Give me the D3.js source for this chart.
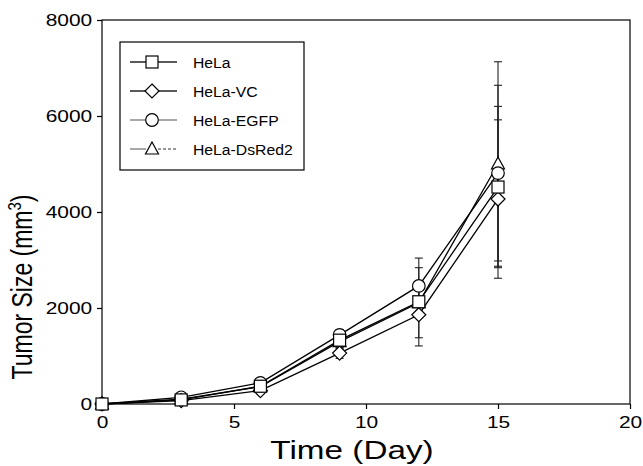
<!DOCTYPE html>
<html lang="en">
<head>
    <meta charset="UTF-8">
    <title>Tumor Size</title>
    <script src="https://d3js.org/d3.v7.min.js"></script>
    <style>
        body { margin: 0; background: #fff; }
        svg { display: block; font-family: "Liberation Sans", Arial, Helvetica, sans-serif; }
    </style>
</head>
<body>
    <svg width="643" height="466"></svg>

    <script>
        // data
        const days = [0, 3, 6, 9, 12, 15];
        const seriesNames = ["HeLa", "HeLa-VC", "HeLa-EGFP", "HeLa-DsRed2"];
        const helaMean   = [0, 85, 370, 1330, 2130, 4520];
        const vcMean     = [0, 70, 280, 1060, 1860, 4270];
        const egfpMean   = [0, 140, 440, 1440, 2460, 4810];
        const dsredMean  = [0, 100, 360, 1300, 2110, 5000];
        const helaSd     = [0, 40, 80, 140, 300, 1680];
        const vcSd       = [0, 30, 70, 110, 650, 1650];
        const egfpSd     = [0, 40, 90, 110, 580, 1830];
        const dsredSd    = [0, 40, 80, 140, 730, 2130];
        const xTicks = [0, 5, 10, 15, 20];
        const yTicks = [0, 2000, 4000, 6000, 8000];

        const means = [helaMean, vcMean, egfpMean, dsredMean];
        const sds = [helaSd, vcSd, egfpSd, dsredSd];
        const shapes = ["square", "diamond", "circle", "triangle"];
        const legendColors = ["#000", "#000", "#777", "#777"];

        const svg = d3.select("svg");
        const x = d3.scaleLinear().domain([0, 20]).range([102, 630]);
        const y = d3.scaleLinear().domain([0, 8000]).range([404, 20]);

        // frame
        svg.append("rect")
            .attr("x", x(0)).attr("y", y(8000))
            .attr("width", x(20) - x(0)).attr("height", y(0) - y(8000))
            .attr("fill", "none").attr("stroke", "#000").attr("stroke-width", 1.2);

        const xAxis = svg.append("g")
            .attr("transform", `translate(0,${y(0)})`)
            .call(d3.axisBottom(x).tickValues(xTicks).tickFormat(d3.format("d"))
                .tickSize(5).tickSizeOuter(0).tickPadding(7));
        const yAxis = svg.append("g")
            .attr("transform", `translate(${x(0)},0)`)
            .call(d3.axisLeft(y).tickValues(yTicks).tickFormat(d3.format("d"))
                .tickSize(5).tickSizeOuter(0).tickPadding(3));

        [xAxis, yAxis].forEach(function (g) {
            g.select(".domain").remove();
            g.selectAll("line").attr("stroke", "#000").attr("stroke-width", 1.2);
            g.selectAll("text")
                .attr("fill", "#000")
                .style("font-size", "17px")
                .style("font-family", "'Liberation Sans', Arial, sans-serif")
                .attr("transform", "scale(1.23,1)");
        });

        // axis titles
        svg.append("text")
            .attr("transform", "translate(352,459) scale(1.28,1)")
            .attr("text-anchor", "middle")
            .style("font-size", "26px")
            .text("Time (Day)");

        const yTitle = svg.append("text")
            .attr("transform", "translate(32,287) rotate(-90) scale(1,1.27)")
            .attr("text-anchor", "middle")
            .style("font-size", "23px");
        yTitle.append("tspan").text("Tumor Size (mm");
        yTitle.append("tspan").attr("dy", -9).style("font-size", "15px").text("3");
        yTitle.append("tspan").attr("dy", 9).text(")");

        // marker shapes
        function drawMarker(g, shape, cx, cy) {
            let m;
            if (shape === "square") {
                m = g.append("rect").attr("x", cx - 6).attr("y", cy - 6).attr("width", 12).attr("height", 12);
            } else if (shape === "circle") {
                m = g.append("circle").attr("cx", cx).attr("cy", cy).attr("r", 6.3);
            } else if (shape === "diamond") {
                m = g.append("path").attr("d", `M${cx},${cy - 7}L${cx + 7},${cy}L${cx},${cy + 7}L${cx - 7},${cy}Z`);
            } else {
                m = g.append("path").attr("d", `M${cx},${cy - 7}L${cx + 6.5},${cy + 5}L${cx - 6.5},${cy + 5}Z`);
            }
            m.attr("fill", "#fff").attr("stroke", "#000").attr("stroke-width", 1.2);
        }

        const line = d3.line()
            .x(function (d, i) { return x(days[i]); })
            .y(function (d) { return y(d); });

        // lines
        svg.append("g").selectAll("path")
            .data(means)
            .enter()
            .append("path")
            .attr("d", function (d) { return line(d); })
            .attr("fill", "none")
            .attr("stroke", "#000")
            .attr("stroke-width", 1.3);

        // error bars
        const errG = svg.append("g").attr("stroke", "#222").attr("stroke-width", 1.1);
        means.forEach(function (m, s) {
            m.forEach(function (v, i) {
                const sd = sds[s][i];
                if (sd <= 0) return;
                const cx = x(days[i]);
                errG.append("line").attr("x1", cx).attr("x2", cx)
                    .attr("y1", y(v + sd)).attr("y2", y(v - sd));
                [v + sd, v - sd].forEach(function (e) {
                    errG.append("line").attr("x1", cx - 4).attr("x2", cx + 4)
                        .attr("y1", y(e)).attr("y2", y(e));
                });
            });
        });

        // markers, HeLa drawn last so it sits on top
        const markG = svg.append("g");
        for (let s = means.length - 1; s >= 0; s--) {
            means[s].forEach(function (v, i) {
                drawMarker(markG, shapes[s], x(days[i]), y(v));
            });
        }

        // legend
        const legend = svg.append("g");
        legend.append("rect")
            .attr("x", 120).attr("y", 42).attr("width", 184).attr("height", 128)
            .attr("fill", "#fff").attr("stroke", "#000").attr("stroke-width", 1.2);

        seriesNames.forEach(function (name, s) {
            const ly = 62 + s * 29;
            legend.append("line")
                .attr("x1", 130).attr("x2", 146).attr("y1", ly).attr("y2", ly)
                .attr("stroke", legendColors[s]).attr("stroke-width", 1.3);
            legend.append("line")
                .attr("x1", 158).attr("x2", 177).attr("y1", ly).attr("y2", ly)
                .attr("stroke", legendColors[s]).attr("stroke-width", 1.3)
                .attr("stroke-dasharray", s === 3 ? "3,2" : null);
            drawMarker(legend, shapes[s], 152, ly);
            legend.append("text")
                .attr("transform", `translate(193,${ly + 5.5}) scale(1.05,1)`)
                .style("font-size", "15px")
                .text(name);
        });
    </script>
</body>
</html>
